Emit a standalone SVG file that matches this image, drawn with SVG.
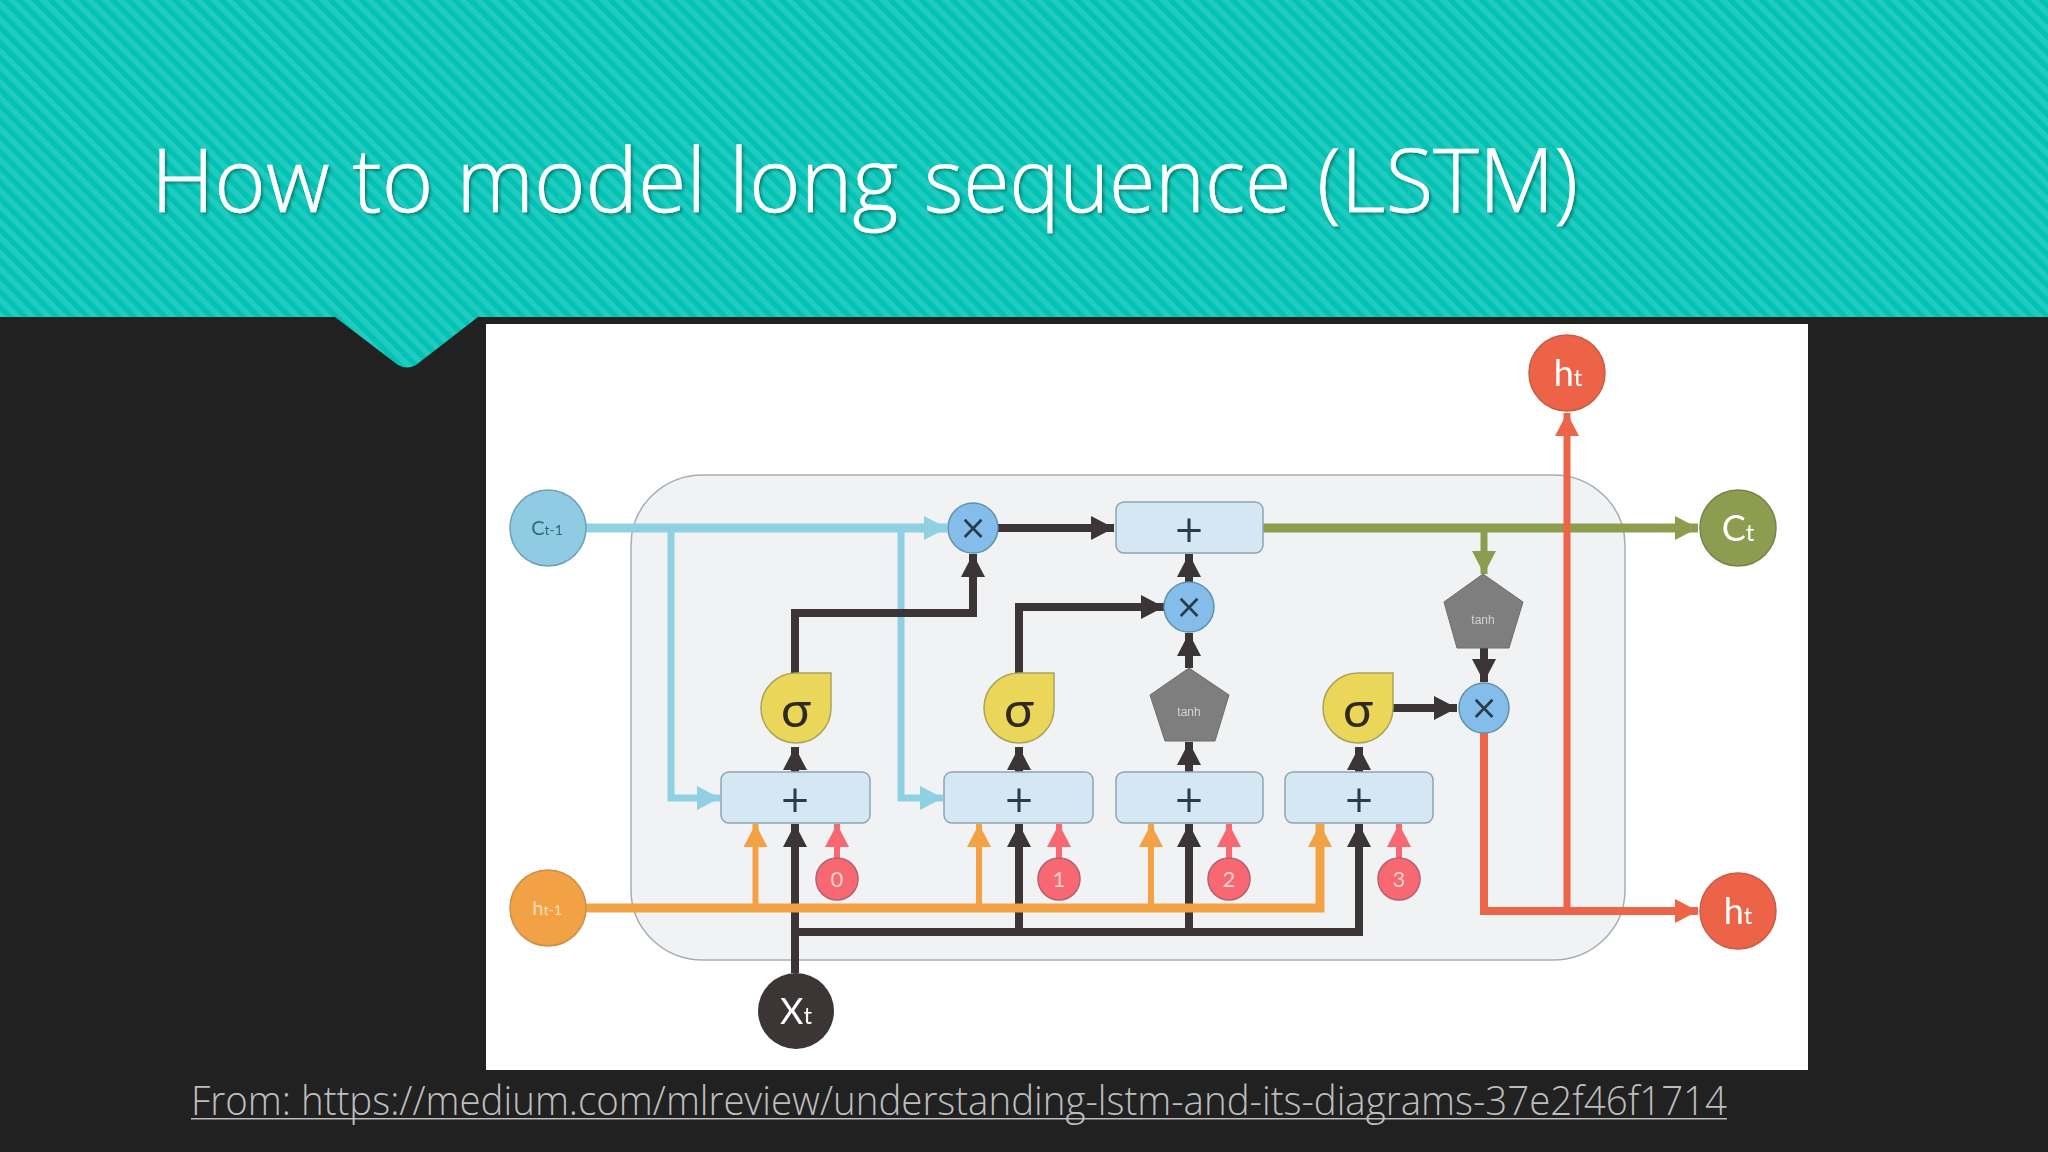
<svg xmlns="http://www.w3.org/2000/svg" width="2048" height="1152" viewBox="0 0 2048 1152">
<defs>
<pattern id="stripes" width="11" height="11" patternUnits="userSpaceOnUse" patternTransform="rotate(45)">
<rect width="11" height="11" fill="#02c3b3"/>
<rect width="11" height="5.5" fill="#22cbc0"/>
</pattern>
<filter id="soft" x="-2%" y="-2%" width="104%" height="104%"><feGaussianBlur stdDeviation="0.7"/></filter>
<filter id="tshadow" x="-5%" y="-20%" width="110%" height="140%"><feDropShadow dx="2" dy="2" stdDeviation="1.5" flood-color="#000" flood-opacity="0.35"/></filter>
<marker id="hk" markerUnits="userSpaceOnUse" markerWidth="23" markerHeight="24" refX="23" refY="12" orient="auto"><path d="M0,0L23,12L0,24z" fill="#3a3534"/></marker>
<marker id="hb" markerUnits="userSpaceOnUse" markerWidth="23" markerHeight="24" refX="23" refY="12" orient="auto"><path d="M0,0L23,12L0,24z" fill="#8fd0e2"/></marker>
<marker id="ho" markerUnits="userSpaceOnUse" markerWidth="23" markerHeight="24" refX="23" refY="12" orient="auto"><path d="M0,0L23,12L0,24z" fill="#f2a244"/></marker>
<marker id="hp" markerUnits="userSpaceOnUse" markerWidth="23" markerHeight="24" refX="23" refY="12" orient="auto"><path d="M0,0L23,12L0,24z" fill="#f86772"/></marker>
<marker id="hg" markerUnits="userSpaceOnUse" markerWidth="23" markerHeight="24" refX="23" refY="12" orient="auto"><path d="M0,0L23,12L0,24z" fill="#8e9c50"/></marker>
<marker id="hr" markerUnits="userSpaceOnUse" markerWidth="23" markerHeight="24" refX="23" refY="12" orient="auto"><path d="M0,0L23,12L0,24z" fill="#ec6547"/></marker>
</defs>
<style>
.ln{fill:none;stroke-linejoin:miter}
.k{stroke:#3a3534;stroke-width:8}
.b{stroke:#8fd0e2;stroke-width:9}
.o{stroke:#f2a244;stroke-width:9}
.p{stroke:#f86772;stroke-width:6}
.g{stroke:#8e9c50;stroke-width:9}
.r{stroke:#ec6547;stroke-width:8}
.add{fill:#d4e7f2;stroke:#8aa6b5;stroke-width:1.5}
.mul{fill:#84bde9;stroke:#5f93a8;stroke-width:1.5}
.sig{fill:#ead75a;stroke:#a8a55a;stroke-width:1.5}
.pen{fill:#7d7e7d;stroke:#6c6d6c;stroke-width:1}
.t{font-family:Lato,"Liberation Sans",sans-serif;text-anchor:middle}
.sym{font-family:"DejaVu Sans",sans-serif;text-anchor:middle;fill:#2a3a48}
.tanh{font-family:"Liberation Sans",sans-serif;text-anchor:middle;font-size:12px;fill:#d2d2d2}
</style>
<rect width="2048" height="1152" fill="#222122"/>
<path d="M0,0H2048V317H478L416,365Q407,370 398,365L335,317H0z" fill="url(#stripes)"/>
<text y="212" font-family="'Open Sans','Noto Sans',sans-serif" font-weight="300" font-size="88" fill="#ffffff" stroke="#ffffff" stroke-width="0.6" filter="url(#tshadow)" lengthAdjust="spacingAndGlyphs"><tspan x="151" textLength="770" lengthAdjust="spacingAndGlyphs">How to model long </tspan><tspan x="924" textLength="389" lengthAdjust="spacingAndGlyphs">sequence </tspan><tspan x="1317" textLength="261" lengthAdjust="spacingAndGlyphs">(LSTM)</tspan></text>
<rect x="486" y="324" width="1322" height="746" fill="#ffffff"/>
<g filter="url(#soft)">
<rect x="631" y="475" width="994" height="485" rx="72" ry="70" fill="#f1f2f4" stroke="#a4aeb4" stroke-width="1.5"/>
<g id="connectors">
<path class="ln k" d="M795,973V824" marker-end="url(#hk)"/>
<path class="ln k" d="M795,932H1359V824" marker-end="url(#hk)"/>
<path class="ln k" d="M1019,932V824" marker-end="url(#hk)"/>
<path class="ln k" d="M1189,932V824" marker-end="url(#hk)"/>
<path class="ln o" d="M586,908H1320V824" marker-end="url(#ho)"/>
<path class="ln o" d="M755.500,908V824" style="stroke-width:6" marker-end="url(#ho)"/>
<path class="ln o" d="M979,908V824" style="stroke-width:6" marker-end="url(#ho)"/>
<path class="ln o" d="M1151,908V824" style="stroke-width:6" marker-end="url(#ho)"/>
<path class="ln p" d="M837,859V824" marker-end="url(#hp)"/>
<path class="ln p" d="M1059,859V824" marker-end="url(#hp)"/>
<path class="ln p" d="M1229,859V824" marker-end="url(#hp)"/>
<path class="ln p" d="M1399,859V824" marker-end="url(#hp)"/>
<path class="ln k" d="M795,772V747" marker-end="url(#hk)"/>
<path class="ln k" d="M1019,772V747" marker-end="url(#hk)"/>
<path class="ln k" d="M1189,772V742" marker-end="url(#hk)"/>
<path class="ln k" d="M1359,772V747" marker-end="url(#hk)"/>
<path class="ln b" d="M671,528V798H720" style="stroke-width:7" marker-end="url(#hb)"/>
<path class="ln b" d="M901,528V798H943" style="stroke-width:7" marker-end="url(#hb)"/>
<path class="ln k" d="M795,673V613H973V554" marker-end="url(#hk)"/>
<path class="ln k" d="M1019,673V607H1164" marker-end="url(#hk)"/>
<path class="ln b" d="M586,528H947" marker-end="url(#hb)"/>
<path class="ln k" d="M998,528H1114" marker-end="url(#hk)"/>
<path class="ln k" d="M1189,582V554" marker-end="url(#hk)"/>
<path class="ln k" d="M1189,668V633" marker-end="url(#hk)"/>
<path class="ln k" d="M1393,708H1457" marker-end="url(#hk)"/>
<path class="ln k" d="M1484,648V682" marker-end="url(#hk)"/>
<path class="ln g" d="M1484,528V574" style="stroke-width:7" marker-end="url(#hg)"/>
<path class="ln g" d="M1263,528H1698" marker-end="url(#hg)"/>
<path class="ln r" d="M1484,733V911H1698" marker-end="url(#hr)"/>
<path class="ln r" d="M1567,911V413" style="stroke-width:7" marker-end="url(#hr)"/>
</g>
<g id="ct-1"><circle cx="548" cy="528" r="38" fill="#8fcbe2" stroke="#6fa3b5" stroke-width="1.5"/><text class="t" x="547" y="535" font-size="20" fill="#2f6a80">C<tspan font-size="14">t-1</tspan></text></g>
<g id="ht-1"><circle cx="548" cy="908" r="38" fill="#f2a244" stroke="#c98f4c" stroke-width="1.5"/><text class="t" x="547" y="915" font-size="20" fill="#f8e0bb">h<tspan font-size="14">t-1</tspan></text></g>
<g id="xt"><circle cx="796" cy="1011" r="38" fill="#3a3534"/><text class="t" x="796" y="1024" font-size="36" fill="#fff">X<tspan font-size="24">t</tspan></text></g>
<g id="ht-top"><circle cx="1567" cy="373" r="38" fill="#ed6446" stroke="#c75d48" stroke-width="1.5"/><text class="t" x="1568" y="386" font-size="36" fill="#fff">h<tspan font-size="24">t</tspan></text></g>
<g id="ht-right"><circle cx="1738" cy="911" r="38" fill="#ed6446" stroke="#c75d48" stroke-width="1.5"/><text class="t" x="1738" y="924" font-size="36" fill="#fff">h<tspan font-size="24">t</tspan></text></g>
<g id="ct"><circle cx="1738" cy="528" r="38" fill="#8e9c50" stroke="#76844c" stroke-width="1.5"/><text class="t" x="1738" y="541" font-size="36" fill="#fff">C<tspan font-size="24">t</tspan></text></g>
<g id="mul1"><circle class="mul" cx="973" cy="528" r="25"/><text class="sym" x="973" y="539" font-size="33">×</text></g>
<g id="mul2"><circle class="mul" cx="1189" cy="607" r="25"/><text class="sym" x="1189" y="618" font-size="33">×</text></g>
<g id="mul3"><circle class="mul" cx="1484" cy="708" r="25"/><text class="sym" x="1484" y="719" font-size="33">×</text></g>
<g id="addtop"><rect class="add" x="1116" y="502" width="147" height="51" rx="8"/><text class="sym" x="1189" y="542" font-size="37">+</text></g>
<g id="add0"><rect class="add" x="721" y="772" width="149" height="51" rx="8"/><text class="sym" x="795" y="812" font-size="37">+</text></g>
<g id="add1"><rect class="add" x="944" y="772" width="149" height="51" rx="8"/><text class="sym" x="1019" y="812" font-size="37">+</text></g>
<g id="add2"><rect class="add" x="1116" y="772" width="147" height="51" rx="8"/><text class="sym" x="1189" y="812" font-size="37">+</text></g>
<g id="add3"><rect class="add" x="1285" y="772" width="148" height="51" rx="8"/><text class="sym" x="1359" y="812" font-size="37">+</text></g>
<g id="sig0"><path class="sig" d="M796.500,673H831V708.500A35,35 0 1 1 796.500,673z"/><text class="t" x="796" y="727" font-size="50" fill="#2f2a20">σ</text></g>
<g id="sig1"><path class="sig" d="M1019.500,673H1054V708.500A35,35 0 1 1 1019.500,673z"/><text class="t" x="1019" y="727" font-size="50" fill="#2f2a20">σ</text></g>
<g id="sig2"><path class="sig" d="M1358.500,673H1393V708.500A35,35 0 1 1 1358.500,673z"/><text class="t" x="1358" y="727" font-size="50" fill="#2f2a20">σ</text></g>
<g id="tanh1"><path class="pen" d="M1189,668L1229,695L1215,741H1165L1150,695z"/><text class="tanh" x="1189" y="716">tanh</text></g>
<g id="tanh2"><path class="pen" d="M1483,574L1523,602L1509,648H1457L1444,602z"/><text class="tanh" x="1483" y="624">tanh</text></g>
<g id="n0"><circle cx="837" cy="879" r="21" fill="#f86772" stroke="#b4626e" stroke-width="1.5"/><text class="t" x="837" y="887" font-size="22" fill="#fbd5d0">0</text></g>
<g id="n1"><circle cx="1059" cy="879" r="21" fill="#f86772" stroke="#b4626e" stroke-width="1.5"/><text class="t" x="1059" y="887" font-size="22" fill="#fbd5d0">1</text></g>
<g id="n2"><circle cx="1229" cy="879" r="21" fill="#f86772" stroke="#b4626e" stroke-width="1.5"/><text class="t" x="1229" y="887" font-size="22" fill="#fbd5d0">2</text></g>
<g id="n3"><circle cx="1399" cy="879" r="21" fill="#f86772" stroke="#b4626e" stroke-width="1.5"/><text class="t" x="1399" y="887" font-size="22" fill="#fbd5d0">3</text></g>
</g>
<text x="191" y="1115" font-family="'Open Sans','Noto Sans',sans-serif" font-weight="300" font-size="40" fill="#bdbdbd" textLength="1536" lengthAdjust="spacingAndGlyphs">From: https://medium.com/mlreview/understanding-lstm-and-its-diagrams-37e2f46f1714</text>
<rect x="191" y="1118" width="1536" height="1.500" fill="#bdbdbd"/>
</svg>
